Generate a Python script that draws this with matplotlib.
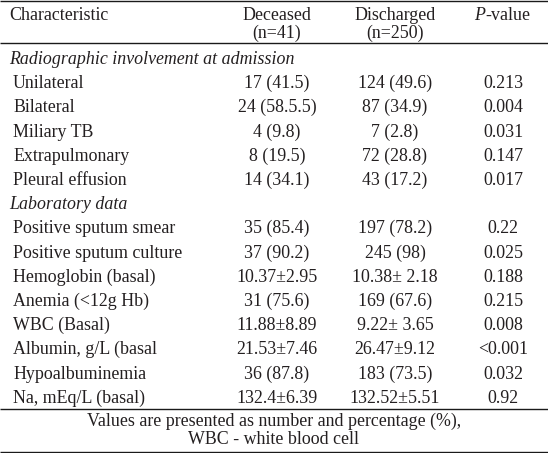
import matplotlib
matplotlib.use("Agg")
import matplotlib.pyplot as plt

# table content
columns = ["Characteristic", "Deceased\n(n=41)", "Discharged\n(n=250)", "P-value"]

section_radio = "Radiographic involvement at admission"
radio_labels = ["Unilateral", "Bilateral", "Miliary TB", "Extrapulmonary",
                "Pleural effusion"]
radio_deceased = ["17 (41.5)", "24 (58.5.5)", "4 (9.8)", "8 (19.5)", "14 (34.1)"]
radio_discharged = ["124 (49.6)", "87 (34.9)", "7 (2.8)", "72 (28.8)", "43 (17.2)"]
radio_p = ["0.213", "0.004", "0.031", "0.147", "0.017"]

section_lab = "Laboratory data"
lab_labels = ["Positive sputum smear", "Positive sputum culture",
              "Hemoglobin (basal)", "Anemia (<12g Hb)", "WBC (Basal)",
              "Albumin, g/L (basal", "Hypoalbuminemia", "Na, mEq/L (basal)"]
lab_deceased = ["35 (85.4)", "37 (90.2)", "10.37\u00b12.95", "31 (75.6)",
                "11.88\u00b18.89", "21.53\u00b17.46", "36 (87.8)", "132.4\u00b16.39"]
lab_discharged = ["197 (78.2)", "245 (98)", "10.38\u00b1 2.18", "169 (67.6)",
                  "9.22\u00b1 3.65", "26.47\u00b19.12", "183 (73.5)", "132.52\u00b15.51"]
lab_p = ["0.22", "0.025", "0.188", "0.215", "0.008", "<0.001", "0.032", "0.92"]

footnote = ["Values are presented as number and percentage (%),",
            "WBC - white blood cell"]

W, H = 548, 453
FONT = "Liberation Serif"
INK = "#231f20"
FS = 12.9
BASE = 5.0  # baseline offset below the visual centre, in px

plt.rcParams["mathtext.fontset"] = "custom"
plt.rcParams["mathtext.rm"] = FONT
plt.rcParams["mathtext.it"] = FONT + ":italic"

fig = plt.figure(figsize=(W / 100, H / 100), dpi=100)
ax = fig.add_axes([0, 0, 1, 1])
ax.set_xlim(0, W)
ax.set_ylim(H, 0)
ax.set_axis_off()

x_label, x_item = 9, 13
x_dec, x_dis, x_p = 277, 395, 503


def txt(x, y, s, ha="left", style="normal"):
    ax.text(x, y + BASE, s, ha=ha, va="baseline", fontsize=FS, family=FONT,
            color=INK, style=style)


# header
txt(x_label, 15, columns[0])
for x, lab in zip((x_dec, x_dis), columns[1:3]):
    top, bot = lab.split("\n")
    txt(x, 15, top, ha="center")
    txt(x, 33, bot, ha="center")
txt(x_p, 15, r"$\it{P}$" + "-value", ha="center")

# body rows
rows = [("section", section_radio, "", "", "")]
rows += [("item", a, b, c, d) for a, b, c, d in
         zip(radio_labels, radio_deceased, radio_discharged, radio_p)]
rows += [("section", section_lab, "", "", "")]
rows += [("item", a, b, c, d) for a, b, c, d in
         zip(lab_labels, lab_deceased, lab_discharged, lab_p)]

y0, dy = 59, 24.2
for i, (kind, a, b, c, d) in enumerate(rows):
    y = y0 + i * dy
    if kind == "section":
        txt(x_label, y, a, style="italic")
    else:
        txt(x_item, y, a)
        txt(x_dec, y, b, ha="center")
        txt(x_dis, y, c, ha="center")
        txt(x_p, y, d, ha="center")

# footnote
txt(W / 2, 421, footnote[0], ha="center")
txt(W / 2, 439, footnote[1], ha="center")

# rules
for y in (1.2, 43, 409, 451.5):
    ax.plot([0, W], [y, y], color="#1a1a1a", lw=1.0, solid_capstyle="butt")

fig.savefig("out.png", dpi=100, facecolor="white")
